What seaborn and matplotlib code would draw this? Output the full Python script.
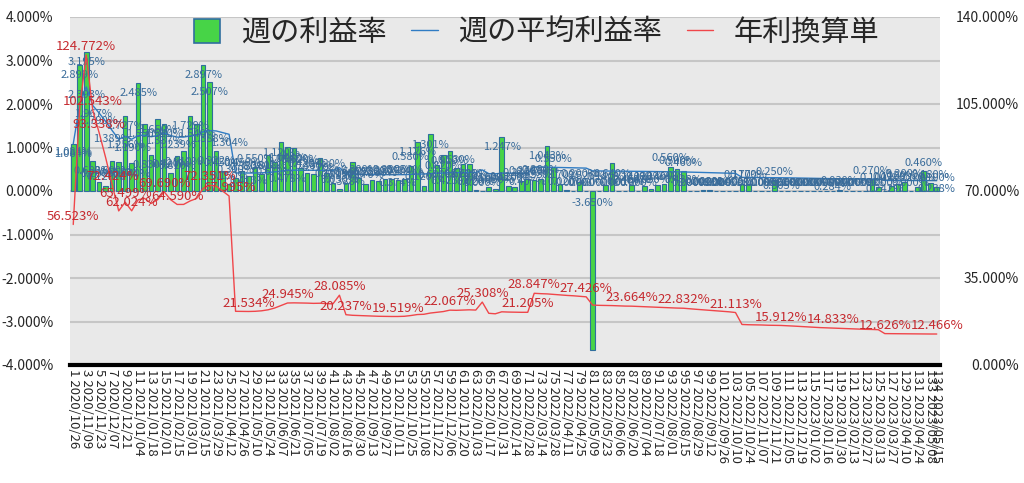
import numpy as np
import pandas as pd
import seaborn as sns
import matplotlib.pyplot as plt
from matplotlib.patches import Patch
from matplotlib.lines import Line2D

# weekly categories: "n yyyy/mm/dd", one per week
weeks = pd.date_range("2020-10-26", periods=134, freq="7D")
week_no = list(range(1, 135))
tick_labels = ["%d %s" % (n, d.strftime("%Y/%m/%d")) for n, d in zip(week_no, weeks)]

# 週の利益率 (%)
weekly_rate = [
    1.084, 2.899, 3.195, 0.688, 0.20, 0.12, 0.69, 0.659, 1.727, 0.64,
    2.485, 1.550, 0.830, 1.65, 1.54, 0.42, 0.81, 0.91, 1.729, 1.54,
    2.897, 2.507, 0.922, 0.45, 0.15, 0.30, 0.45, 0.35, 0.55, 0.38,
    0.818, 0.67, 1.12, 1.004, 0.98, 0.52, 0.42, 0.38, 0.77, 0.42,
    0.19, 0.05, 0.19, 0.667, 0.30, 0.17, 0.25, 0.23, 0.27, 0.28,
    0.25, 0.28, 0.58, 1.126, 0.12, 1.301, 0.60, 0.82, 0.919, 0.53,
    0.62, 0.62, 0.02, 0.00, 0.10, 0.05, 1.247, 0.12, 0.10, 0.23,
    0.27, 0.25, 0.28, 1.043, 0.550, 0.17, 0.02, 0.00, 0.20, 0.00,
    -3.650, 0.00, 0.14, 0.64, 0.00, 0.01, 0.14, 0.00, 0.12, 0.05,
    0.14, 0.16, 0.56, 0.50, 0.46, 0.00, 0.00, 0.02, 0.02, 0.00,
    0.00, 0.00, 0.00, 0.17, 0.17, 0.00, 0.00, 0.00, 0.25, 0.00,
    0.00, 0.00, 0.00, 0.00, 0.00, 0.00, 0.00, 0.00, 0.03, 0.00,
    0.00, 0.00, 0.00, 0.27, 0.10, 0.00, 0.12, 0.15, 0.20, 0.00,
    0.10, 0.46, 0.18, 0.10,
]

# 週の平均利益率 (%)
avg_rate = [
    1.084, 1.991, 2.393, 1.967, 1.790, 1.598, 1.389, 1.189, 1.256, 1.190,
    1.275, 1.285, 1.247, 1.275, 1.337, 1.275, 1.239, 1.239, 1.266, 1.285,
    1.362, 1.388, 1.381, 1.343, 1.304, 0.414, 0.413, 0.413, 0.414, 0.418,
    0.426, 0.439, 0.458, 0.478, 0.479, 0.479, 0.478, 0.476, 0.477, 0.474,
    0.472, 0.539, 0.388, 0.384, 0.382, 0.380, 0.378, 0.376, 0.375, 0.374,
    0.374, 0.376, 0.382, 0.389, 0.391, 0.401, 0.407, 0.412, 0.423, 0.422,
    0.424, 0.426, 0.424, 0.485, 0.399, 0.395, 0.410, 0.409, 0.408, 0.407,
    0.407, 0.553, 0.550, 0.549, 0.545, 0.541, 0.537, 0.534, 0.530, 0.526,
    0.462, 0.460, 0.459, 0.458, 0.456, 0.455, 0.454, 0.452, 0.450, 0.448,
    0.446, 0.443, 0.441, 0.439, 0.438, 0.433, 0.430, 0.426, 0.422, 0.418,
    0.414, 0.410, 0.405, 0.313, 0.311, 0.310, 0.309, 0.307, 0.306, 0.305,
    0.303, 0.300, 0.297, 0.294, 0.292, 0.289, 0.287, 0.284, 0.283, 0.281,
    0.279, 0.277, 0.275, 0.274, 0.272, 0.242, 0.242, 0.241, 0.241, 0.240,
    0.240, 0.240, 0.239, 0.238,
]

# 年利換算単 (%), right axis
annual_rate = [
    56.523, 103.8, 124.772, 102.543, 93.338, 83.32, 72.424, 62.0, 65.499, 62.024,
    66.5, 67.0, 65.0, 66.5, 69.690, 66.5, 64.590, 64.6, 66.0, 67.0,
    71.0, 72.351, 72.0, 70.0, 67.995, 21.6, 21.55, 21.534, 21.6, 21.8,
    22.2, 22.9, 23.9, 24.945, 25.0, 24.95, 24.9, 24.8, 24.85, 24.7,
    24.6, 28.085, 20.237, 20.0, 19.9, 19.8, 19.7, 19.6, 19.55, 19.52,
    19.519, 19.6, 19.9, 20.3, 20.4, 20.9, 21.2, 21.5, 22.067, 22.0,
    22.1, 22.2, 22.1, 25.308, 20.8, 20.6, 21.4, 21.3, 21.25, 21.2,
    21.205, 28.847, 28.7, 28.6, 28.4, 28.2, 28.0, 27.85, 27.65, 27.426,
    24.1, 24.0, 23.95, 23.9, 23.8, 23.7, 23.664, 23.55, 23.45, 23.35,
    23.25, 23.1, 23.0, 22.9, 22.832, 22.6, 22.4, 22.2, 22.0, 21.8,
    21.6, 21.4, 21.113, 16.3, 16.2, 16.15, 16.1, 16.0, 15.95, 15.912,
    15.8, 15.65, 15.5, 15.35, 15.2, 15.05, 14.95, 14.833, 14.75, 14.65,
    14.55, 14.45, 14.35, 14.3, 14.2, 12.626, 12.6, 12.58, 12.56, 12.53,
    12.5, 12.49, 12.47, 12.466,
]

# weeks whose line points carry a value label
label_weeks = [1, 3, 4, 5, 7, 9, 10, 15, 17, 22, 25, 28, 34, 42, 43, 51, 59,
               64, 71, 72, 80, 87, 95, 103, 110, 118, 126, 134]

GREEN = "#47d447"
EDGE = "#2f6e9e"
BLUE = "#2f7cc4"
RED = "#f0464a"
BLUE_TXT = "#3a6c9a"
RED_TXT = "#c62a2f"

sns.set_theme(style="white")
plt.rcParams['font.family'] = ['Noto Sans CJK JP', 'DejaVu Sans']

fig = plt.figure(figsize=(10.24, 4.83), dpi=100)
ax = fig.add_axes([70/1024, 118/483, 870/1024, 348/483])
ax.set_facecolor("#e9e9e9")

pos = np.arange(len(week_no))
sns.barplot(x=pos, y=weekly_rate, color=GREEN, saturation=1, edgecolor=EDGE,
            linewidth=0.8, width=0.7, ax=ax)
sns.lineplot(x=pos, y=avg_rate, color=BLUE, linewidth=1.0, ax=ax)

ax2 = ax.twinx()
sns.lineplot(x=pos, y=annual_rate, color=RED, linewidth=1.0, ax=ax2)

# axes
ax.set_xlim(-0.5, len(week_no) - 0.5)
ax.set_ylim(-4, 4)
ax.set_yticks(range(-4, 5))
ax.set_yticklabels(["%.3f%%" % v for v in range(-4, 5)], fontsize=10)
ax2.set_ylim(0, 140)
ax2.set_yticks([0, 35, 70, 105, 140])
ax2.set_yticklabels(["%.3f%%" % v for v in [0, 35, 70, 105, 140]], fontsize=10, ha="right")
ax.tick_params(axis="y", length=0, pad=12)
ax2.tick_params(axis="y", length=0, pad=57)

tick_pos = list(range(0, len(week_no), 2)) + [len(week_no) - 1]
ax.set_xticks(tick_pos)
ax.set_xticklabels([tick_labels[p] for p in tick_pos], rotation=-90,
                   ha="center", va="top", fontsize=9.5)
ax.tick_params(axis="x", length=0, pad=3)
ax.set_xlabel("")
ax.set_ylabel("")
ax2.set_ylabel("")

ax.yaxis.grid(True, color="#c6c6c6", linewidth=1.5)
ax.set_axisbelow(True)
for s in ["top", "left", "right"]:
    ax.spines[s].set_visible(False)
    ax2.spines[s].set_visible(False)
ax.spines["bottom"].set_color("black")
ax.spines["bottom"].set_linewidth(3)
ax2.spines["bottom"].set_visible(False)

# value labels on bars
for i, v in enumerate(weekly_rate):
    if v < 0:
        y, dy = 0, -9
    elif v >= 0.6:
        y, dy = v, -7.5
    else:
        y, dy = v, 6
    ax.annotate("%.3f%%" % v, (i, y), xytext=(0, dy), textcoords="offset points",
                ha="center", va="center", fontsize=8, color=BLUE_TXT, zorder=5)

# labels on the two lines
for w in label_weeks:
    i = w - 1
    ax.annotate("%.3f%%" % avg_rate[i], (i, avg_rate[i]), xytext=(0, -6),
                textcoords="offset points", ha="center", va="center",
                fontsize=8, color=BLUE_TXT, zorder=5)
    ax2.annotate("%.3f%%" % annual_rate[i], (i, annual_rate[i]), xytext=(0, 6),
                 textcoords="offset points", ha="center", va="center",
                 fontsize=9.5, color=RED_TXT, zorder=6)

handles = [Patch(facecolor=GREEN, edgecolor=EDGE, linewidth=1.2),
           Line2D([0], [0], color=BLUE, linewidth=1.0),
           Line2D([0], [0], color=RED, linewidth=1.0)]
fig.legend(handles, ["週の利益率", "週の平均利益率", "年利換算単"], loc="center",
           bbox_to_anchor=(0.524, 0.932), ncol=3, frameon=False, fontsize=21,
           handlelength=0.9, handleheight=0.9, handletextpad=0.7, columnspacing=0.85)

fig.savefig("out.png", dpi=100)
